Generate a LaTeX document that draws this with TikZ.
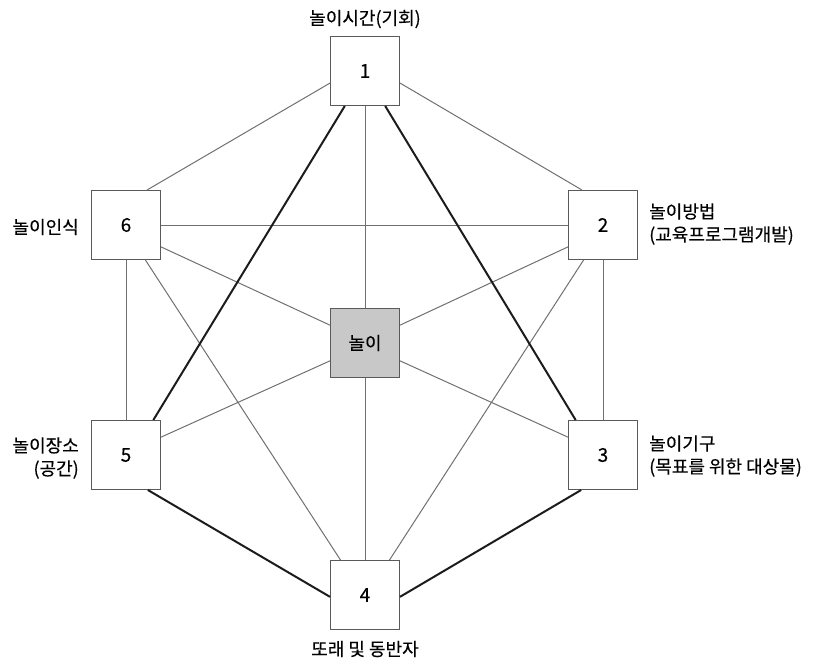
\documentclass[tikz,border=0pt]{standalone}
\usepackage{fontspec}
\setmainfont{Noto Sans CJK KR}[FakeBold=0.3]
\usetikzlibrary{positioning}
\definecolor{boxline}{HTML}{5A5A5A}
\definecolor{thinline}{HTML}{707070}
\definecolor{thickline}{HTML}{1C1C1C}
\definecolor{playfill}{HTML}{C8C8C8}
\tikzset{
  numbox/.style={
    draw=boxline,
    fill=white,
    line width=1pt,
    minimum size=69pt,
    inner sep=0pt,
    font=\fontsize{19}{22}\selectfont
  },
  namelabel/.style={
    inner sep=0pt,
    font=\fontsize{18}{23}\selectfont
  },
  thinleg/.style={draw=thinline,line width=1pt},
  thickleg/.style={draw=thickline,line width=2pt}
}

\begin{document}
\begin{tikzpicture}[x=1pt,y=-1pt]
  \useasboundingbox (0,0) rectangle (815,662);

  % hexagon of numbered boxes, play in the middle
  \node[numbox] (n1) at (365,71) {1};
  \node[numbox] (n2) at (603,225) {2};
  \node[numbox] (n3) at (603,455) {3};
  \node[numbox] (n4) at (365,595) {4};
  \node[numbox] (n5) at (126,455) {5};
  \node[numbox] (n6) at (126,225) {6};
  \node[numbox,fill=playfill,font=\fontsize{18}{22}\selectfont] (play) at (365,343) {놀이};

  \node[namelabel] (t1) at (365,19) {놀이시간(기회)};
  \node[namelabel,anchor=west,align=left] (t2) at (649,224) {놀이방법\\(교육프로그램개발)};
  \node[namelabel,anchor=west,align=left] (t3) at (649,456) {놀이기구\\(목표를 위한 대상물)};
  \node[namelabel] (t4) at (365,649) {또래 및 동반자};
  \node[namelabel,anchor=east,align=right] (t5) at (79,458) {놀이장소\\(공간)};
  \node[namelabel,anchor=east] (t6) at (79,227) {놀이인식};

  % thin links
  \draw[thinleg] (n1.199) -- (n6.59);
  \draw[thinleg] (n1.341) -- (n2.121);
  \draw[thinleg] (n6.east) -- (n2.west);
  \draw[thinleg] (n6.south) -- (n5.north);
  \draw[thinleg] (n2.south) -- (n3.north);
  \draw[thinleg] (n1.south) -- (play.north);
  \draw[thinleg] (play.south) -- (n4.north);
  \draw[thinleg] (n6.328) -- (play.153);
  \draw[thinleg] (n2.212) -- (play.27);
  \draw[thinleg] (n5.27) -- (play.207);
  \draw[thinleg] (n3.153) -- (play.333);
  \draw[thinleg] (n6.299) -- (n4.125);
  \draw[thinleg] (n2.241) -- (n4.55);

  % thick links
  \draw[thickleg] (n1.240) -- (n5.52);
  \draw[thickleg] (n1.300) -- (n3.128);
  \draw[thickleg] (n5.302) -- (n4.183);
  \draw[thickleg] (n3.238) -- (n4.357);
\end{tikzpicture}
\end{document}
